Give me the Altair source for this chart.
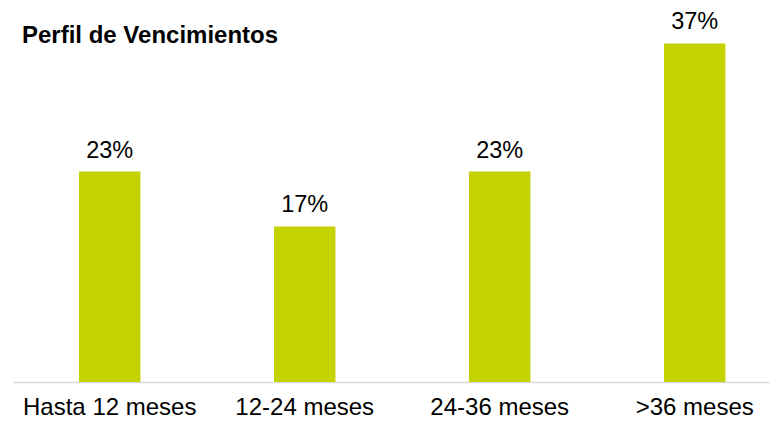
import altair as alt
import pandas as pd

categories = ["Hasta 12 meses", "12-24 meses", "24-36 meses", ">36 meses"]
values = [23, 17, 23, 37]

df = pd.DataFrame({"cat": categories, "val": values})

FONT = "Liberation Sans"

base = alt.Chart(df).transform_calculate(
    label="datum.val + '%'"
).encode(
    x=alt.X(
        "cat:N",
        sort=categories,
        scale=alt.Scale(paddingInner=0.685, paddingOuter=0.2835, align=0.597),
        axis=alt.Axis(
            title=None,
            labelAngle=0,
            labelFont=FONT,
            labelFontSize=24,
            labelColor="#000000",
            labelBaseline="alphabetic",
            labelPadding=32,
            ticks=False,
            domainColor="#D9D9D9",
            domainWidth=1.5,
        ),
    ),
    y=alt.Y(
        "val:Q",
        scale=alt.Scale(domain=[0, 40]),
        axis=None,
    ),
)

bars = base.mark_bar(color="#C4D200")
texts = base.mark_text(
    baseline="alphabetic", dy=-14, font=FONT, fontSize=23.5, color="#000000"
).encode(text="label:N")

chart = (
    (bars + texts)
    .properties(
        width=757,
        height=366,
        autosize=alt.AutoSizeParams(type="none"),
        padding={"left": 5, "top": 8, "right": 0, "bottom": 37},
        title=alt.TitleParams(
            "Perfil de Vencimientos",
            anchor="start",
            frame="group",
            font=FONT,
            fontSize=24,
            fontWeight="bold",
            color="#000000",
            baseline="alphabetic",
            offset=0,
            dx=9,
            dy=57,
        ),
    )
    .configure_view(stroke=None)
)

chart.save("out.html", embed_options={"renderer": "svg", "actions": False})
